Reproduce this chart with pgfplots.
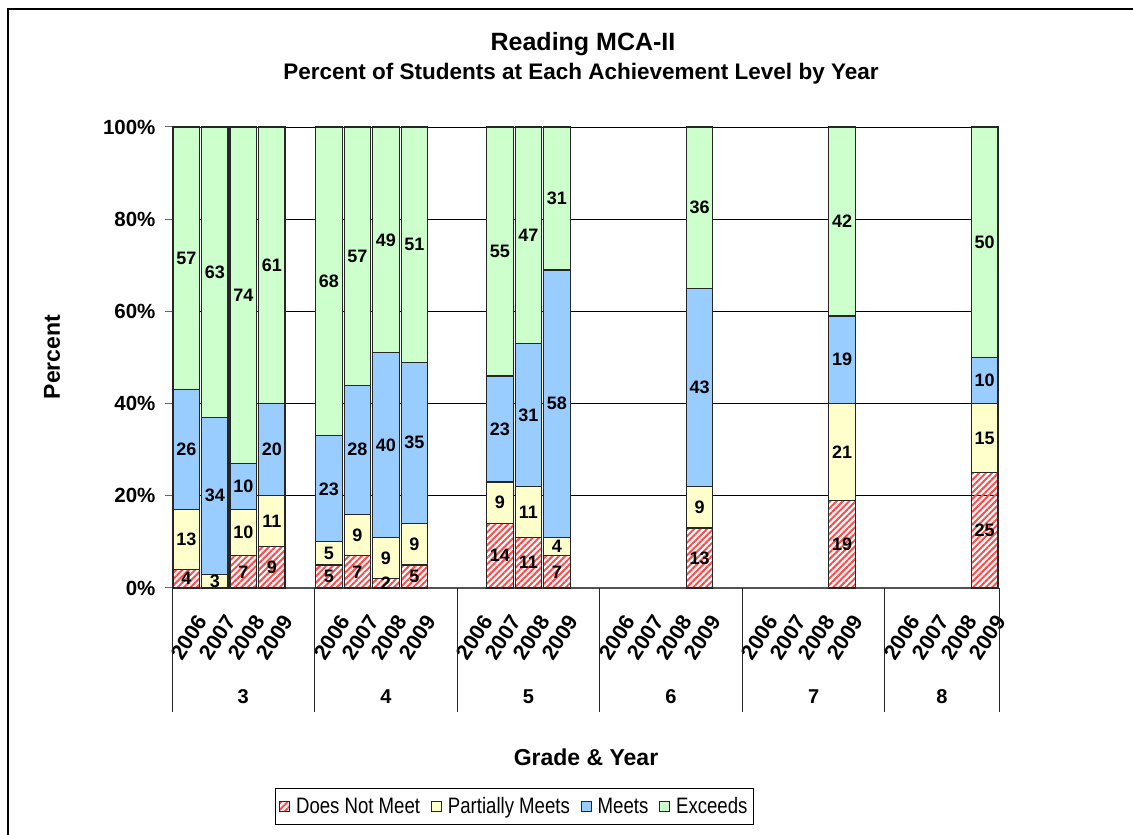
\documentclass[border=0pt]{standalone}
\usepackage{pgfplots}
\pgfplotsset{compat=1.18}
\usepackage{pgfplotstable}
\usepackage{fontspec}
\setmainfont{Liberation Sans}
\usetikzlibrary{patterns.meta}

\definecolor{pmc}{HTML}{FFFFCC}
\definecolor{mec}{HTML}{99CCFF}
\definecolor{exc}{HTML}{CCFFCC}
\definecolor{hatch}{HTML}{FF4A4A}
\newcommand\fs[1]{\fontsize{#1}{#1}\selectfont}
\newcommand\lbl{\pgfmathfloatifflags{\pgfplotspointmeta}{0}{}{\pgfmathprintnumber[assume math mode=true]{\pgfplotspointmeta}}}
\newcommand\tall[1]{\scalebox{1}[1.2]{#1}}

% x = slot (5 slots per grade, 4 years used); ex = height of Exceeds segment, exl = its label
\pgfplotstableread{
x  dnm pm me ex exl
0  4  13 26 57 57
1  0  3  34 63 63
2  7  10 10 73 74
3  9  11 20 60 61
5  5  5  23 67 68
6  7  9  28 56 57
7  2  9  40 49 49
8  5  9  35 51 51
11 14 9  23 54 55
12 11 11 31 47 47
13 7  4  58 31 31
18 13 9  43 35 36
23 19 21 19 41 42
28 25 15 10 50 50
}\data

\pgfplotsset{
  frame/.style={at={(172pt,247pt)}, anchor=south west,
    scale only axis, width=827pt, height=461pt,
    xmin=-0.5, xmax=28.5, ymin=0, ymax=100, clip=false},
  boxleg/.style={legend image code/.code={\draw[##1,line width=0.8pt] (0pt,-5pt) rectangle (10pt,5pt);}},
}

\begin{document}
\begin{tikzpicture}
\path[use as bounding box] (0,0) rectangle (1133pt,835pt);
\draw[black, line width=1.3pt] (8pt,0pt) -- (8pt,826pt) -- (1133pt,826pt);

\begin{axis}[
  frame,
  ybar stacked, bar width=0.93,
  axis lines*=left,
  separate axis lines,
  x axis line style={-, draw=black!68, line width=2pt},
  y axis line style={-, draw=black!50, line width=1pt},
  ymajorgrids, grid style={black, line width=0.8pt},
  tick align=outside, major tick length=7pt,
  ytick={0,20,40,60,80,100},
  yticklabel={\pgfmathprintnumber[assume math mode=true]{\tick}\%},
  yticklabel style={font=\fs{20.5}\bfseries, xshift=-6pt},
  ytick style={draw=black!60, line width=1pt},
  xtick={0,1,2,3,5,6,7,8,10,11,12,13,15,16,17,18,20,21,22,23,25,26,27,28},
  xticklabels={2006,2007,2008,2009,2006,2007,2008,2009,2006,2007,2008,2009,2006,2007,2008,2009,2006,2007,2008,2009,2006,2007,2008,2009},
  xticklabel style={font=\fs{21.5}\bfseries, yshift=-42pt, xshift=3pt, rotate=57, anchor=center, inner sep=0pt},
  xtick style={draw=none},
  every axis plot/.append style={draw=black!85, line width=1.2pt},
  legend columns=4,
  legend style={at={(0.414,-0.474)}, anchor=center, draw=black, line width=1pt,
    font=\fs{18.6}, inner xsep=4pt, inner ysep=7pt,
    /tikz/every odd column/.append style={column sep=4pt},
    /tikz/every even column/.append style={column sep=9pt}},
]
\addplot[pattern={Lines[angle=45,distance=4.5pt,line width=2pt]}, pattern color=hatch, boxleg]
  table[x=x, y=dnm] {\data};
\addplot[fill=pmc, boxleg] table[x=x, y=pm] {\data};
\addplot[fill=mec, boxleg] table[x=x, y=me] {\data};
\addplot[fill=exc, boxleg] table[x=x, y=ex] {\data};
\legend{\tall{Does Not Meet}, \tall{Partially Meets}, \tall{Meets}, \tall{Exceeds}}

\pgfplotsinvokeforeach{-0.5,4.5,9.5,14.5,19.5,24.5,28.5}{
  \draw[black!85, line width=1pt] (axis cs:#1,0) -- ++(0pt,-124pt);
}
\node[font=\fs{20}\bfseries] at (axis cs:2,0) [yshift=-109pt] {3};
\node[font=\fs{20}\bfseries] at (axis cs:7,0) [yshift=-109pt] {4};
\node[font=\fs{20}\bfseries] at (axis cs:12,0) [yshift=-109pt] {5};
\node[font=\fs{20}\bfseries] at (axis cs:17,0) [yshift=-109pt] {6};
\node[font=\fs{20}\bfseries] at (axis cs:22,0) [yshift=-109pt] {7};
\node[font=\fs{20}\bfseries] at (axis cs:26.5,0) [yshift=-109pt] {8};
\end{axis}

% value labels, centred in each segment
\begin{axis}[
  frame, hide axis,
  point meta=explicit,
  nodes near coords=\lbl,
  nodes near coords style={font=\fs{18}\bfseries, text=black, inner sep=0pt, anchor=center},
]
\addplot[draw=none, mark=none] table[x=x, y expr=0.5*\thisrow{dnm}, meta=dnm] {\data};
\addplot[draw=none, mark=none] table[x=x, y expr=\thisrow{dnm}+0.5*\thisrow{pm}, meta=pm] {\data};
\addplot[draw=none, mark=none] table[x=x, y expr=\thisrow{dnm}+\thisrow{pm}+0.5*\thisrow{me}, meta=me] {\data};
\addplot[draw=none, mark=none] table[x=x, y expr=\thisrow{dnm}+\thisrow{pm}+\thisrow{me}+0.5*\thisrow{ex}, meta=exl] {\data};
\end{axis}

\node[font=\fs{25}\bfseries, anchor=base] at (583pt,784pt) {Reading MCA-II};
\node[font=\fs{22.5}\bfseries, anchor=base] at (581pt,755pt) {Percent of Students at Each Achievement Level by Year};
\node[font=\fs{23}\bfseries, rotate=90] at (52pt,478pt) {Percent};
\node[font=\fs{23}\bfseries] at (586pt,78pt) {Grade \& Year};
\end{tikzpicture}
\end{document}
